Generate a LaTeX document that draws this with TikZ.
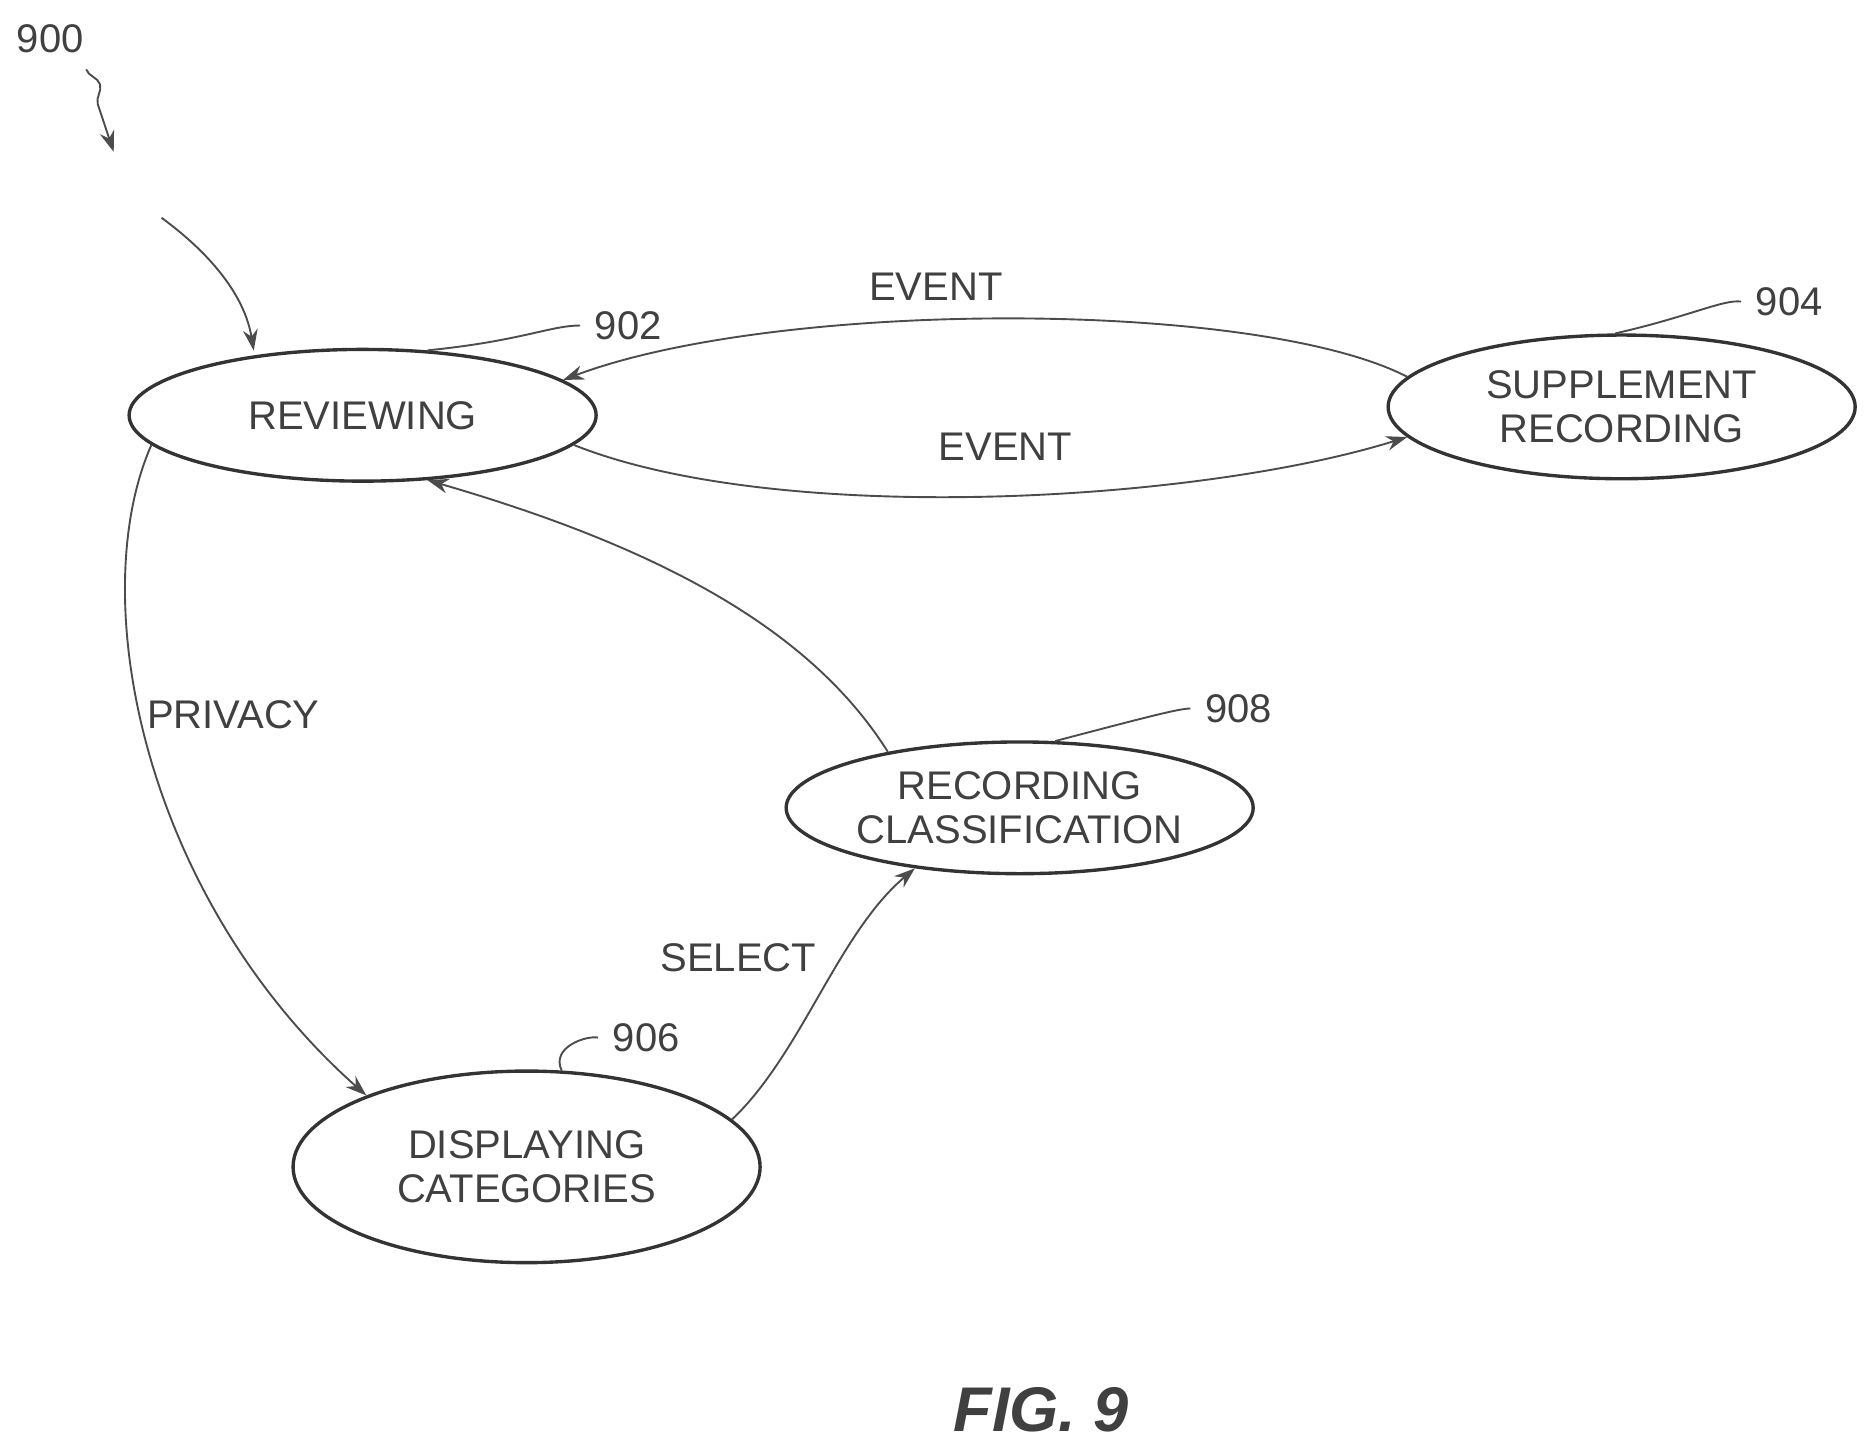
\documentclass[tikz,border=0pt]{standalone}
\usepackage{fontspec}
\setmainfont{Liberation Sans}
\usetikzlibrary{arrows.meta,decorations.pathmorphing,shapes.geometric}
\begin{document}
\begin{tikzpicture}[x=0.01cm,y=-0.01cm,
  st/.style={draw=black!80,line width=0.8pt,ellipse,inner sep=0pt,font=\fontsize{9.5}{10.5}\selectfont,align=center,text=black!75},
  lab/.style={font=\fontsize{9.5}{10.5}\selectfont,text=black!75},
  num/.style={font=\fontsize{9.5}{10.5}\selectfont,text=black!75},
  ar/.style={draw=black!70,line width=0.45pt,-{Stealth[length=5pt,width=3.5pt]}},
  ld/.style={draw=black!70,line width=0.45pt}]
\useasboundingbox (0,0) rectangle (1560,1207);
\node[st,minimum width=3.9cm,minimum height=1.1cm] (rev) at (303,347) {REVIEWING};
\node[st,minimum width=3.9cm,minimum height=1.2cm] (sup) at (1355,340) {SUPPLEMENT\\RECORDING};
\node[st,minimum width=3.9cm,minimum height=1.1cm] (rc) at (852,675) {RECORDING\\CLASSIFICATION};
\node[st,minimum width=3.9cm,minimum height=1.6cm] (dc) at (440,975) {DISPLAYING\\CATEGORIES};
\node[num] (n900) at (42,32) {900};
\node[num] (n902) at (525,272) {902};
\node[num] (n904) at (1495,252) {904};
\node[num] (n906) at (540,867) {906};
\node[num] (n908) at (1035,592) {908};
\node[lab] (e1) at (782,240) {EVENT};
\node[lab] (e2) at (840,373) {EVENT};
\node[lab] (pr) at (195,597) {PRIVACY};
\node[lab] (se) at (617,800) {SELECT};
\node[font=\bfseries\itshape\fontsize{15}{17}\selectfont,text=black!75] (fig) at (870,1178) {FIG. 9};
\coordinate (w0) at (72,58); \coordinate (w1) at (95,127);
\draw[ar,decorate,decoration={snake,amplitude=2pt,segment length=14pt,post length=5pt}] (w0) -- (w1);
\coordinate (s0) at (135,182);
\coordinate (s1) at (212,293);
\draw[ar] (s0) .. controls (180,215) and (205,250) .. (s1);
\draw[ld] (rev.45) .. controls (435,285) and (460,272) .. (n902.west);
\draw[ld] (sup.95) .. controls (1410,265) and (1440,250) .. (n904.west);
\draw[ld] (rc.62) .. controls (955,600) and (985,592) .. (n908.west);
\draw[ld] (dc.70) .. controls (460,875) and (490,865) .. (n906.west);
\draw[ar] (sup.172) .. controls (1050,250) and (650,250) .. (rev.10);
\draw[ar] (rev.-8) .. controls (650,440) and (1000,420) .. (sup.-172);
\draw[ar] (rc.157) .. controls (680,530) and (560,460) .. (rev.-45);
\draw[ar] (rev.-172) .. controls (70,500) and (120,750) .. (dc.156);
\draw[ar] (dc.13) .. controls (670,880) and (700,780) .. (rc.-150);
\end{tikzpicture}
\end{document}
